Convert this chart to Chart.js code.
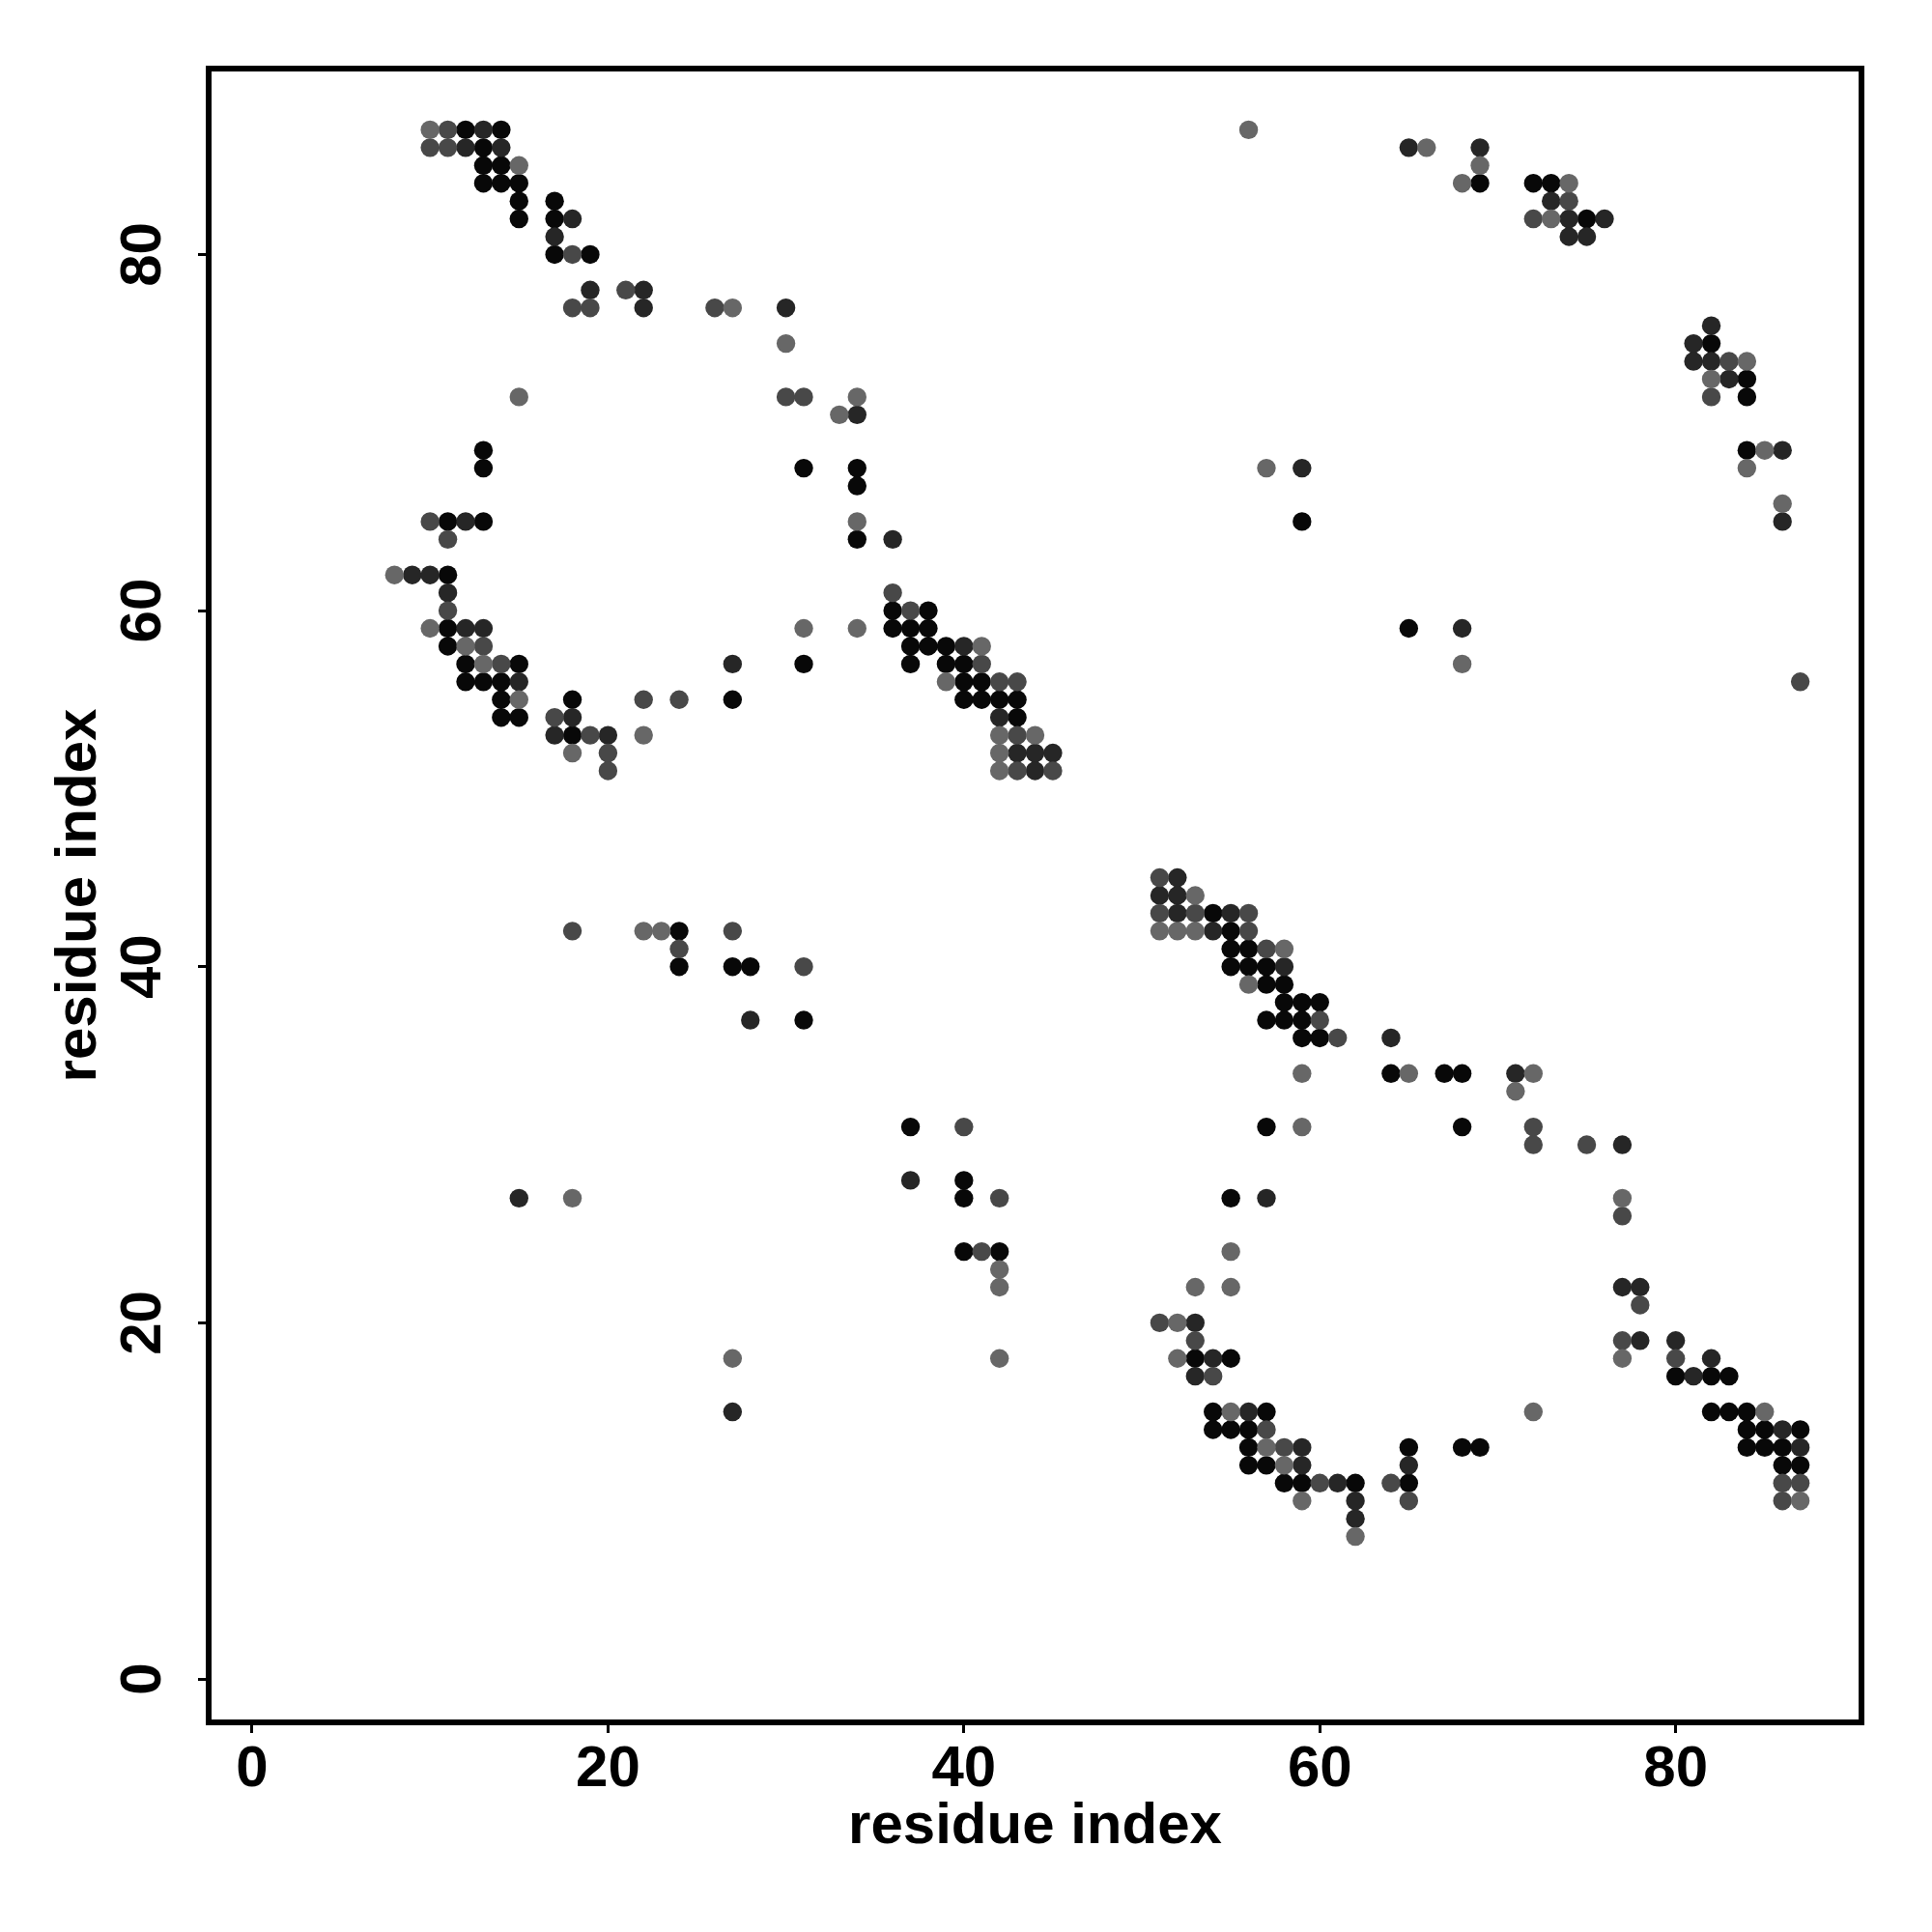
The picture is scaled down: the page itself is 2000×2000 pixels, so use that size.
<!DOCTYPE html>
<html>
<head>
<meta charset="utf-8">
<script src="https://cdn.jsdelivr.net/npm/chart.js@4.4.0/dist/chart.umd.min.js"></script>
<style>
  html, body { margin: 0; padding: 0; background: #fff; }
  canvas { display: block; }
</style>
</head>
<body>
<canvas id="contacts" width="2000" height="2000"></canvas>
<script>
// residue contact pairs [i, j], grouped by how dark the dot is
const blackPts = [
  [12,87],[14,87],[13,86],[13,85],[14,85],[13,84],[14,84],[15,84],[69,84],[72,84],[73,84],
  [15,83],[17,83],[15,82],[17,82],[75,82],[17,80],[19,80],[82,75],[84,73],[84,72],
  [13,69],[84,69],[13,68],[31,68],[34,68],[34,67],[11,65],[13,65],[59,65],[34,64],[11,62],
  [36,60],[38,60],[11,59],[36,59],[37,59],[38,59],[65,59],[11,58],[37,58],[38,58],[39,58],
  [12,57],[15,57],[31,57],[37,57],[39,57],[40,57],[12,56],[13,56],[14,56],[40,56],[41,56],
  [14,55],[18,55],[27,55],[40,55],[41,55],[42,55],[43,55],[14,54],[15,54],[43,54],[18,53],
  [54,43],[24,42],[55,42],[55,41],[56,41],[24,40],[27,40],[28,40],[55,40],[56,40],[57,40],
  [57,39],[58,39],[58,38],[59,38],[60,38],[31,37],[57,37],[58,37],[59,37],[59,36],[60,36],
  [64,34],[67,34],[68,34],[37,31],[57,31],[68,31],[40,28],[40,27],[55,27],[40,24],[42,24],
  [53,18],[55,18],[80,17],[82,17],[83,17],[54,15],[57,15],[82,15],[83,15],[84,15],
  [54,14],[55,14],[56,14],[84,14],[85,14],[87,14],[56,13],[65,13],[68,13],[69,13],[84,13],[85,13],[86,13],
  [56,12],[57,12],[86,12],[87,12],[58,11],[59,11],[62,11],[65,11]
];
const darkPts = [
  [13,87],[12,86],[14,86],[65,86],[69,86],[73,83],[18,82],[74,82],[76,82],[17,81],[74,81],[75,81],
  [19,78],[22,78],[22,77],[30,77],[82,76],[81,75],[81,74],[82,74],[83,73],[34,71],[86,69],[59,68],
  [12,65],[86,65],[36,64],[9,62],[10,62],[11,61],[12,59],[13,59],[68,59],[40,58],[27,57],[15,56],
  [18,54],[42,54],[17,53],[20,53],[43,52],[44,52],[45,52],[44,51],
  [52,45],[51,44],[52,44],[52,43],[55,43],[54,42],[58,40],[28,37],[64,36],[71,34],[77,30],[37,28],
  [15,27],[57,27],[77,22],[78,22],[53,20],[78,19],[80,19],[54,18],[82,18],[53,17],[81,17],
  [27,15],[56,15],[86,14],[59,13],[87,13],[59,12],[65,12],[61,11],[62,10],[62,9]
];
const midPts = [
  [11,87],[10,86],[11,86],[74,83],[72,82],[18,80],[21,78],[18,77],[19,77],[26,77],[83,74],
  [30,72],[31,72],[82,72],[10,65],[11,64],[36,61],[11,60],[37,60],[13,58],[14,57],[41,57],
  [42,56],[43,56],[87,56],[22,55],[24,55],[17,54],[19,53],[43,53],[20,52],[20,51],[43,51],[45,51],
  [51,45],[51,43],[53,43],[56,43],[18,42],[27,42],[56,42],[24,41],[57,41],[31,40],[60,37],[61,36],
  [40,31],[72,31],[72,30],[75,30],[42,27],[77,26],[41,24],[78,21],[51,20],[53,19],[77,19],
  [80,18],[54,17],[57,14],[58,13],[60,11],[64,11],[86,11],[87,11],[65,10],[86,10]
];
const lightPts = [
  [10,87],[56,87],[66,86],[15,85],[69,85],[68,84],[74,84],[73,82],[27,77],[30,75],[84,74],[82,73],
  [15,72],[34,72],[33,71],[85,69],[57,68],[84,68],[86,66],[34,65],[8,62],[10,59],[31,59],[34,59],
  [12,58],[41,58],[13,57],[68,57],[39,56],[15,55],[22,53],[42,53],[44,53],[18,52],[42,52],[42,51],
  [53,44],[22,42],[23,42],[51,42],[52,42],[53,42],[58,41],[56,39],[59,34],[65,34],[72,34],[71,33],
  [59,31],[18,27],[77,27],[55,24],[42,23],[42,22],[53,22],[55,22],[52,20],
  [27,18],[42,18],[52,18],[77,18],[55,15],[72,15],[85,15],[57,13],[58,12],[59,10],[87,10],[62,8]
];

const tickValues = [0, 20, 40, 60, 80];
const axisMin = -2.44;
const axisMax = 90.44;
const axisTitle = 'residue index';

const toXY = pts => pts.map(([x, y]) => ({ x, y }));

const fontFamily = '"Liberation Sans", Arial, Helvetica, sans-serif';

const frame = {
  id: 'frame',
  afterDatasetsDraw(chart) {
    const { ctx, chartArea: a } = chart;
    ctx.save();
    ctx.lineWidth = 6;
    ctx.strokeStyle = '#000';
    ctx.strokeRect(a.left, a.top, a.right - a.left, a.bottom - a.top);
    ctx.restore();
  }
};

const setTicks = scale => { scale.ticks = tickValues.map(v => ({ value: v })); };

const ctx = document.getElementById('contacts').getContext('2d');
new Chart(ctx, {
  type: 'scatter',
  data: {
    datasets: [
      { data: toXY(lightPts), backgroundColor: '#676767' },
      { data: toXY(midPts), backgroundColor: '#484848' },
      { data: toXY(darkPts), backgroundColor: '#262626' },
      { data: toXY(blackPts), backgroundColor: '#080808' }
    ]
  },
  options: {
    responsive: false,
    animation: false,
    devicePixelRatio: 1,
    layout: { padding: { top: 71, right: 73, left: 0, bottom: 0 } },
    elements: { point: { radius: 9.7, borderWidth: 0, hoverRadius: 9.7 } },
    plugins: { legend: { display: false }, tooltip: { enabled: false } },
    scales: {
      x: {
        type: 'linear',
        min: axisMin,
        max: axisMax,
        afterBuildTicks: setTicks,
        afterFit: s => { s.height = 217; },
        border: { display: false },
        grid: { drawOnChartArea: false, drawTicks: true, tickLength: 11, tickWidth: 3, tickColor: '#000' },
        ticks: { autoSkip: false, padding: 2, color: '#000', font: { family: fontFamily, size: 60, weight: 'bold' } },
        title: { display: true, text: axisTitle, color: '#000', padding: { top: 0, bottom: 73 },
                 font: { family: fontFamily, size: 60, weight: 'bold' } }
      },
      y: {
        type: 'linear',
        min: axisMin,
        max: axisMax,
        afterBuildTicks: setTicks,
        afterFit: s => { s.width = 216; },
        border: { display: false },
        grid: { drawOnChartArea: false, drawTicks: true, tickLength: 11, tickWidth: 3, tickColor: '#000' },
        ticks: { autoSkip: false, minRotation: 90, maxRotation: 90, crossAlign: 'center', padding: 22,
                 color: '#000', font: { family: fontFamily, size: 60, weight: 'bold' } },
        title: { display: true, text: axisTitle, color: '#000', padding: { top: 46, bottom: 0 },
                 font: { family: fontFamily, size: 60, weight: 'bold' } }
      }
    }
  },
  plugins: [frame]
});
</script>
</body>
</html>
